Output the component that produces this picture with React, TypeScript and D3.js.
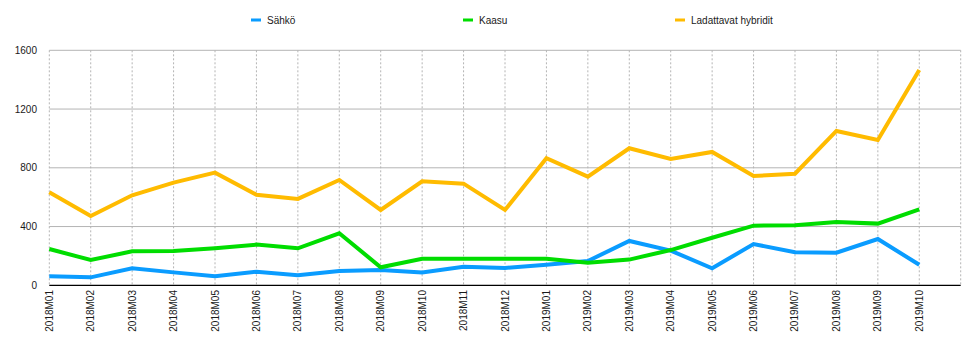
import React from "react";
import * as d3 from "d3";

const categories = [
  "2018M01","2018M02","2018M03","2018M04","2018M05","2018M06","2018M07","2018M08","2018M09","2018M10","2018M11","2018M12",
  "2019M01","2019M02","2019M03","2019M04","2019M05","2019M06","2019M07","2019M08","2019M09","2019M10",
];
const extraSlot = "2019M11";

const sahko = [61,54,116,88,61,93,68,97,104,88,127,118,140,165,302,236,116,281,225,222,315,140];
const kaasu = [247,172,231,233,252,277,252,354,123,181,180,181,180,154,175,240,324,406,409,431,420,517];
const hybridit = [633,472,613,699,767,617,588,717,513,708,692,513,865,740,933,860,908,744,760,1051,989,1466];

const seriesNames = ["Sähkö", "Kaasu", "Ladattavat hybridit"];
const seriesColors = ["#0a9cff", "#00dd00", "#ffbb00"];
const yTicks = [0, 400, 800, 1200, 1600];

export default function App() {
  const W = 968, H = 362;
  const left = 49.3, right = 960.7, top = 50.3, bottom = 285.3;
  const x = d3.scalePoint<string>().domain([...categories, extraSlot]).range([left, right]);
  const y = d3.scaleLinear().domain([0, 1600]).range([bottom, top]);
  const series = [sahko, kaasu, hybridit];
  const line = d3.line<number>().x((_, i) => x(categories[i])!).y((v) => y(v));
  const legendX = [251, 463, 675];
  const font = "'Liberation Sans', Arial, Helvetica, sans-serif";

  return (
    <svg width={W} height={H} style={{ position: "absolute", left: 0, top: 0 }} fontFamily={font}>
      <rect width={W} height={H} fill="#fff" />
      {yTicks.filter((t) => t > 0).map((t) => (
        <line key={"h" + t} x1={left} x2={right} y1={y(t)} y2={y(t)} stroke="#b4b4b4" strokeWidth={1} />
      ))}
      {[...categories, extraSlot].map((c) => (
        <line key={"v" + c} x1={x(c)} x2={x(c)} y1={top} y2={bottom} stroke="#b4b4b4" strokeWidth={1} strokeDasharray="2,2" />
      ))}
      {yTicks.map((t) => (
        <text key={"yl" + t} x={37} y={y(t)} dy="0.35em" textAnchor="end" fontSize={10} fill="#1a1a1a">{t}</text>
      ))}
      <line x1={left} x2={right} y1={bottom} y2={bottom} stroke="#000" strokeWidth={1.3} />
      {categories.map((c) => (
        <text key={"xl" + c} transform={`translate(${x(c)},290) rotate(-90)`} dy="0.35em" textAnchor="end" fontSize={10} fill="#1a1a1a">{c}</text>
      ))}
      {series.map((s, i) => (
        <path key={"s" + i} d={line(s)!} fill="none" stroke={seriesColors[i]} strokeWidth={4} strokeLinejoin="miter" />
      ))}
      {seriesNames.map((n, i) => (
        <g key={"lg" + i}>
          <rect x={legendX[i]} y={18.5} width={10} height={3} fill={seriesColors[i]} />
          <text x={legendX[i] + 16} y={20} dy="0.35em" fontSize={10} fill="#1a1a1a">{n}</text>
        </g>
      ))}
    </svg>
  );
}
